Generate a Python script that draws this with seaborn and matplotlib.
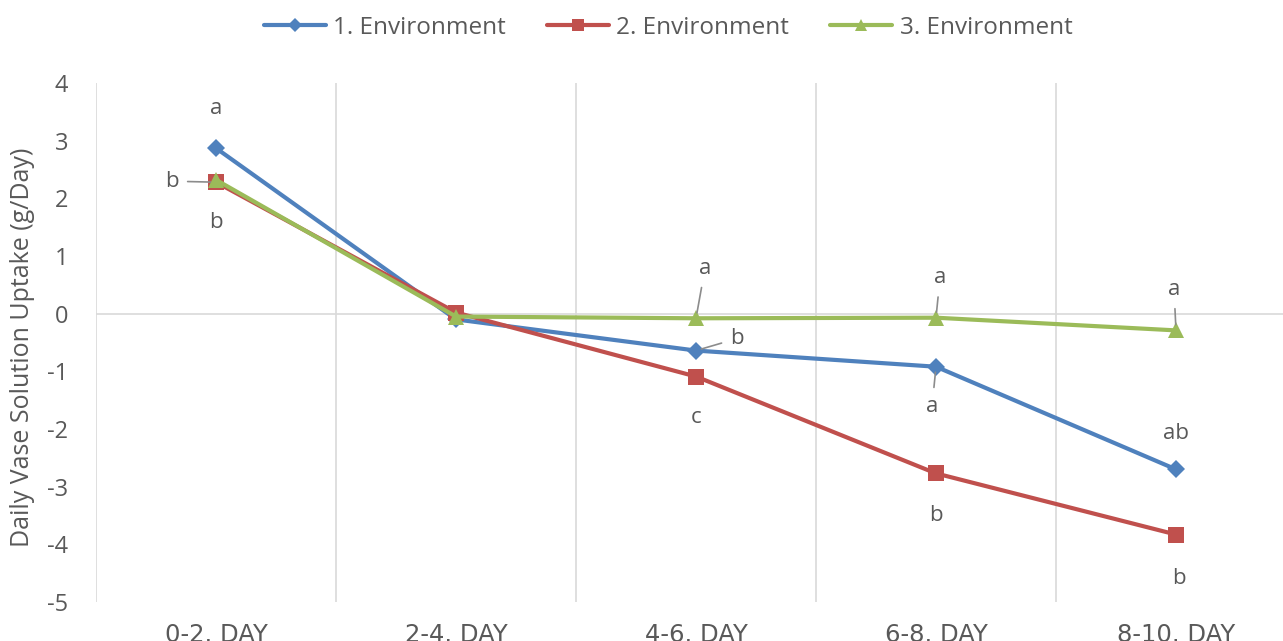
import matplotlib
matplotlib.use("Agg")
import matplotlib.pyplot as plt
import seaborn as sns
import pandas as pd

# Measurement periods and daily uptake per environment (g/day)
periods = ["0-2. DAY", "2-4. DAY", "4-6. DAY", "6-8. DAY", "8-10. DAY"]
series_names = ["1. Environment", "2. Environment", "3. Environment"]
env1 = [2.87, -0.10, -0.64, -0.92, -2.70]
env2 = [2.28, 0.02, -1.09, -2.77, -3.83]
env3 = [2.32, -0.05, -0.08, -0.07, -0.29]

# Significance letters per environment and period ('' = no letter)
letters1 = ["a", "", "b", "a", "ab"]
letters2 = ["b", "", "c", "b", "b"]
letters3 = ["b", "", "a", "a", "a"]

colors = ["#4F81BD", "#C0504D", "#9BBB59"]
markers = ["D", "s", "^"]
marker_sizes = [9, 11, 11]
text_grey = "#595959"

sns.set_theme(style="white")
plt.rcParams["font.family"] = ["Open Sans", "DejaVu Sans"]
plt.rcParams["axes.unicode_minus"] = False

df = pd.DataFrame({
    "period": periods * 3,
    "uptake": env1 + env2 + env3,
    "env": sum([[n] * len(periods) for n in series_names], []),
})

fig = plt.figure(figsize=(12.83, 6.41), dpi=100)
W, H = 1283, 641
ax = fig.add_axes([96 / W, (H - 602) / H, (W - 96) / W, (602 - 83) / H])

sns.lineplot(data=df, x="period", y="uptake", hue="env", style="env",
             palette=colors, markers=markers, dashes=False, linewidth=3,
             markersize=10, markeredgewidth=0, ax=ax, legend=False, sort=False)
for line, ms in zip(ax.lines, marker_sizes):
    line.set_markersize(ms)

ax.set_xlim(-0.5, (W - 216) / 240)
ax.set_ylim(-5, 4)
ax.set_yticks(range(-5, 5))
ax.set_xticks(range(len(periods)))
ax.set_xticklabels(periods)
for lbl in ax.get_xticklabels():
    lbl.set_fontfamily("DejaVu Sans")
    lbl.set_fontsize(17.5)
    lbl.set_color(text_grey)
    lbl.set_verticalalignment("top")
ax.tick_params(axis="y", labelsize=17, labelcolor=text_grey, length=0, pad=20)
ax.tick_params(axis="x", length=0, pad=15)

for s in ax.spines.values():
    s.set_visible(False)

grid_c = "#D9D9D9"
for b in [-0.5, 0.5, 1.5, 2.5, 3.5]:
    ax.axvline(b, color=grid_c, lw=1.2, zorder=0)
ax.axhline(0, color=grid_c, lw=1.2, zorder=0)

ax.set_xlabel("")
ax.set_ylabel("Daily Vase Solution Uptake (g/Day)", fontsize=18,
              color=text_grey)
ax.yaxis.set_label_coords((35 - 96) / (W - 96), 0.49)

# Letter labels: (offset in pixels, draw leader line)
offsets1 = [((0, 40), False), None, ((41, 12), True), ((-4, -40), True), ((0, 36), False)]
offsets2 = [((-44, 1), True), None, ((0, -41), False), ((0, -42), False), ((3, -44), False)]
offsets3 = [((0, -43), False), None, ((9, 50), True), ((4, 40), True), ((-2, 41), True)]

for vals, lets, offs in [(env1, letters1, offsets1), (env2, letters2, offsets2),
                         (env3, letters3, offsets3)]:
    for i, (v, t, o) in enumerate(zip(vals, lets, offs)):
        if not t:
            continue
        (dx, dy), leader = o
        kw = {}
        if leader:
            kw["arrowprops"] = dict(arrowstyle="-", color="#8C8C8C", lw=1.2,
                                    shrinkA=4, shrinkB=4)
        ax.annotate(t, xy=(i, v), xytext=(dx, dy), textcoords="offset pixels",
                    ha="center", va="center", fontsize=16, color=text_grey, **kw)

# Legend
handles = [plt.Line2D([], [], color=c, marker=m, lw=3, markersize=ms * 0.8,
                      markeredgewidth=0)
           for c, m, ms in zip(colors, markers, marker_sizes)]
fig.legend(handles, series_names, loc="center", bbox_to_anchor=(668 / W, 1 - 28 / H),
           ncol=3, frameon=False, fontsize=17.5, labelcolor=text_grey,
           handlelength=2.55, handletextpad=0.3, columnspacing=1.7,
           borderpad=0, borderaxespad=0)

fig.savefig("out.png", dpi=100)
